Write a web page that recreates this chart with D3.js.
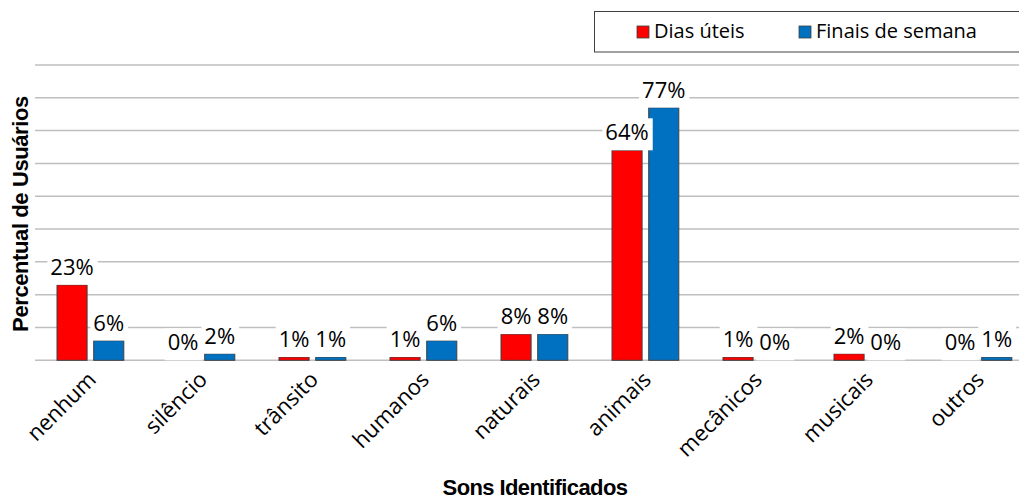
<!DOCTYPE html>
<html>
<head>
<meta charset="utf-8">
<script src="https://cdn.jsdelivr.net/npm/d3@7"></script>
<style>
  body { margin: 0; background: #fff; }
  svg { display: block; }
</style>
</head>
<body>
<div id="chart"></div>
<script>
var categories = ["nenhum", "silêncio", "trânsito", "humanos", "naturais", "animais", "mecânicos", "musicais", "outros"];
var series = ["Dias úteis", "Finais de semana"];
var diasUteis = [23, 0, 1, 1, 8, 64, 1, 2, 0];
var finaisSemana = [6, 2, 1, 6, 8, 77, 0, 0, 1];
var yTicks = [0, 10, 20, 30, 40, 50, 60, 70, 80, 90];
var colors = ["#FF0000", "#0070C0"];

var width = 1019, height = 502;
var svg = d3.select("#chart").append("svg")
    .attr("width", width)
    .attr("height", height);

var x0 = d3.scaleBand().domain(categories).range([35, 1034]);
var x1 = d3.scaleBand().domain(series).range([22, 88.8]).paddingInner(0.18);
var y = d3.scaleLinear().domain([0, 90]).range([360.3, 65]);
var color = d3.scaleOrdinal().domain(series).range(colors);

// gridlines
svg.append("g").selectAll("line")
    .data(yTicks)
  .enter().append("line")
    .attr("x1", 35).attr("x2", 1034)
    .attr("y1", d => y(d)).attr("y2", d => y(d))
    .attr("stroke", "#BFBFBF")
    .attr("stroke-width", 1.5);

var rows = [];
categories.forEach(function(c, i) {
  rows.push({cat: c, s: series[0], v: diasUteis[i]});
  rows.push({cat: c, s: series[1], v: finaisSemana[i]});
});

// bars
svg.append("g").selectAll("rect")
    .data(rows.filter(d => d.v > 0))
  .enter().append("rect")
    .attr("x", d => x0(d.cat) + x1(d.s))
    .attr("y", d => y(d.v))
    .attr("width", x1.bandwidth())
    .attr("height", d => y(0) - y(d.v))
    .attr("fill", d => color(d.s))
    .attr("stroke", "#404040")
    .attr("stroke-width", 1);

// data labels with white background
var lbl = svg.append("g").selectAll("g")
    .data(rows)
  .enter().append("g");

lbl.append("text")
    .attr("x", d => x0(d.cat) + x1(d.s) + x1.bandwidth() / 2)
    .attr("y", d => y(d.v) - 10)
    .attr("text-anchor", "middle")
    .style("font-family", "'Open Sans', sans-serif")
    .style("font-size", "22px")
    .attr("fill", "#000")
    .text(d => d.v + "%");

lbl.each(function() {
  var g = d3.select(this);
  var b = g.select("text").node().getBBox();
  g.insert("rect", "text")
    .attr("x", b.x - 3).attr("y", b.y + 2)
    .attr("width", b.width + 7).attr("height", b.height + 2)
    .attr("fill", "#fff");
});

// category labels
svg.append("g").selectAll("text")
    .data(categories)
  .enter().append("text")
    .attr("transform", d => "translate(" + (x0(d) + x0.bandwidth() / 2 + 7) + ",381) rotate(-45)")
    .attr("text-anchor", "end")
    .style("font-family", "'Open Sans', sans-serif")
    .style("font-size", "22px")
    .attr("fill", "#000")
    .text(d => d);

// axis titles
svg.append("text")
    .attr("transform", "translate(28,214) rotate(-90)")
    .attr("text-anchor", "middle")
    .style("font-family", "'Liberation Sans', Arial, sans-serif")
    .style("font-weight", "bold")
    .style("font-size", "22px")
    .style("letter-spacing", "-0.4px")
    .text("Percentual de Usuários");

svg.append("text")
    .attr("x", 535).attr("y", 495)
    .attr("text-anchor", "middle")
    .style("font-family", "'Liberation Sans', Arial, sans-serif")
    .style("font-weight", "bold")
    .style("font-size", "22px")
    .style("letter-spacing", "-0.6px")
    .text("Sons Identificados");

// legend
var legend = svg.append("g");
legend.append("rect")
    .attr("x", 594.5).attr("y", 11.5)
    .attr("width", 440).attr("height", 40.5)
    .attr("fill", "#fff")
    .attr("stroke", "#404040")
    .attr("stroke-width", 1);

var legX = [637, 799];
var item = legend.selectAll("g.item")
    .data(series)
  .enter().append("g")
    .attr("class", "item")
    .attr("transform", (d, i) => "translate(" + legX[i] + ",26)");

item.append("rect")
    .attr("width", 12).attr("height", 12)
    .attr("fill", d => color(d))
    .attr("stroke", "#404040")
    .attr("stroke-width", 0.8);

item.append("text")
    .attr("x", 17).attr("y", 12)
    .style("font-family", "'Open Sans', sans-serif")
    .style("font-size", "20px")
    .attr("fill", "#000")
    .text(d => d);
</script>
</body>
</html>
